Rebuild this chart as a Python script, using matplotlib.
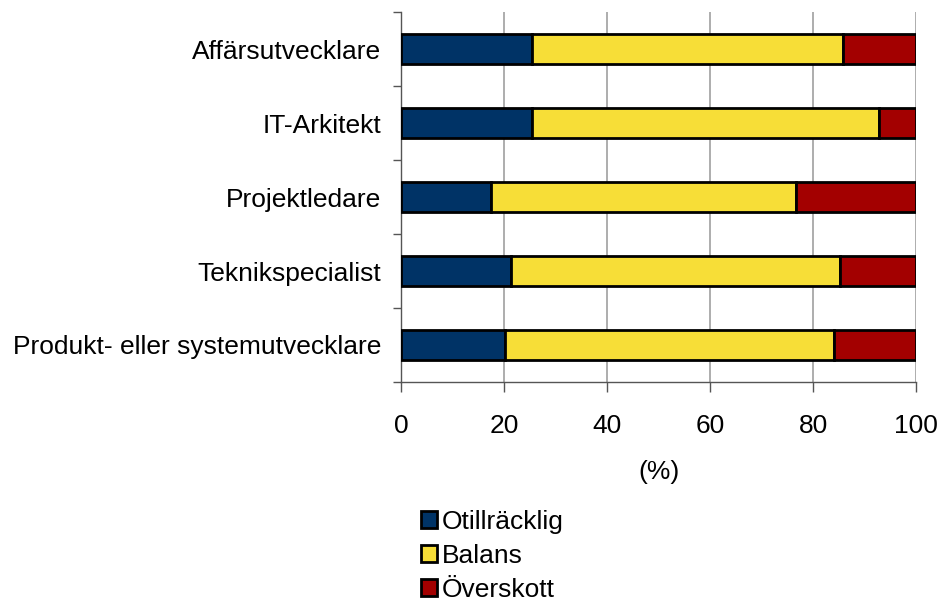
import matplotlib
matplotlib.use("Agg")
import matplotlib.pyplot as plt
import numpy as np

plt.rcParams['font.family'] = ['Liberation Sans', 'DejaVu Sans']

categories = ["Affärsutvecklare", "IT-Arkitekt", "Projektledare",
              "Teknikspecialist", "Produkt- eller systemutvecklare"]
otillracklig = [25.5, 25.5, 17.4, 21.3, 20.2]
balans = [60.4, 67.4, 59.3, 64.0, 63.9]
overskott = [14.1, 7.1, 23.3, 14.7, 15.9]
series_names = ["Otillräcklig", "Balans", "Överskott"]
colors = ["#003366", "#F7DE37", "#A30000"]
xticks = [0, 20, 40, 60, 80, 100]

FS = 19

fig = plt.figure(figsize=(9.42, 6.01), dpi=100)
ax = fig.add_axes([0.4257, 0.3644, 0.9724 - 0.4257, 0.980 - 0.3644])

y = np.arange(len(categories))
left = np.zeros(len(categories))
handles = []
for vals, name, col in zip([otillracklig, balans, overskott], series_names, colors):
    h = ax.barh(y, vals, left=left, height=0.4, color=col, edgecolor='black',
                linewidth=2.0, label=name, zorder=3)
    handles.append(h)
    left = left + np.array(vals)

ax.set_ylim(len(categories) - 0.5, -0.5)
ax.set_xlim(0, 100)
ax.set_yticks(y)
ax.set_yticklabels(categories, fontsize=FS)
ax.tick_params(axis='y', length=0, pad=14)
ax.set_yticks(np.arange(-0.5, len(categories)), minor=True)
ax.tick_params(axis='y', which='minor', length=6, color='#555555', width=1)
ax.set_xticks(xticks)
ax.set_xticklabels([str(t) for t in xticks], fontsize=FS)
ax.tick_params(axis='x', length=7, color='#555555', width=1, pad=16)
ax.grid(axis='x', color='#a0a0a0', linewidth=1.2, zorder=0)
for s in ['top', 'right']:
    ax.spines[s].set_visible(False)
for s in ['left', 'bottom']:
    ax.spines[s].set_color('#555555')
    ax.spines[s].set_linewidth(1)
ax.set_xlabel("(%)", fontsize=FS, labelpad=16)

fig.legend(handles=handles, labels=series_names, loc='upper left',
           bbox_to_anchor=(0.447, 0.152), frameon=False, fontsize=FS,
           handlelength=0.62, handleheight=0.62, handletextpad=0.15,
           labelspacing=0.38, borderpad=0, borderaxespad=0)

fig.savefig("out.png", dpi=100)
